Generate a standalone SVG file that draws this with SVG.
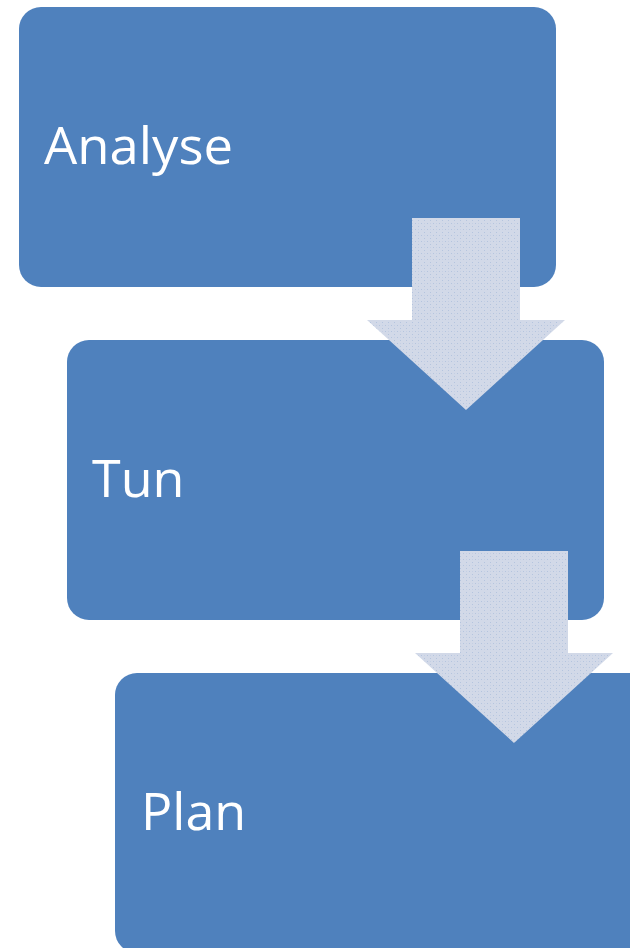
<svg xmlns="http://www.w3.org/2000/svg" width="630" height="948" viewBox="0 0 630 948">
  <defs>
    <style>
      .box { fill: #4F81BD; }
      .lbl { fill: #FFFFFF; font-family: "Open Sans", "Liberation Sans", sans-serif; font-size: 52px; }
      .arrow { fill: url(#tex); }
    </style>
    <pattern id="tex" width="6" height="6" patternUnits="userSpaceOnUse">
      <rect width="6" height="6" fill="#D2D9E8"/>
      <rect x="1" y="1" width="1" height="1" fill="#B4C4DE"/>
      <rect x="4" y="4" width="1" height="1" fill="#B4C4DE"/>
      <rect x="4" y="1" width="1" height="1" fill="#C4CFE4"/>
    </pattern>
  </defs>
  <rect width="630" height="948" fill="#FFFFFF"/>
  <g id="node-analyse">
    <rect class="box" x="19" y="7" width="537" height="280" rx="22" ry="22"/>
    <text class="lbl" x="44" y="164" textLength="189" lengthAdjust="spacingAndGlyphs">Analyse</text>
  </g>
  <g id="node-tun">
    <rect class="box" x="67" y="340" width="537" height="280" rx="22" ry="22"/>
    <text class="lbl" x="92" y="497">Tun</text>
  </g>
  <g id="node-plan">
    <rect class="box" x="115" y="673" width="537" height="280" rx="22" ry="22"/>
    <text class="lbl" x="141" y="830">Plan</text>
  </g>
  <g id="connectors">
    <polygon class="arrow" points="412,218 520,218 520,320 565,320 466,410 367,320 412,320"/>
    <polygon class="arrow" points="460,551 568,551 568,653 613,653 514,743 415,653 460,653"/>
  </g>
</svg>
